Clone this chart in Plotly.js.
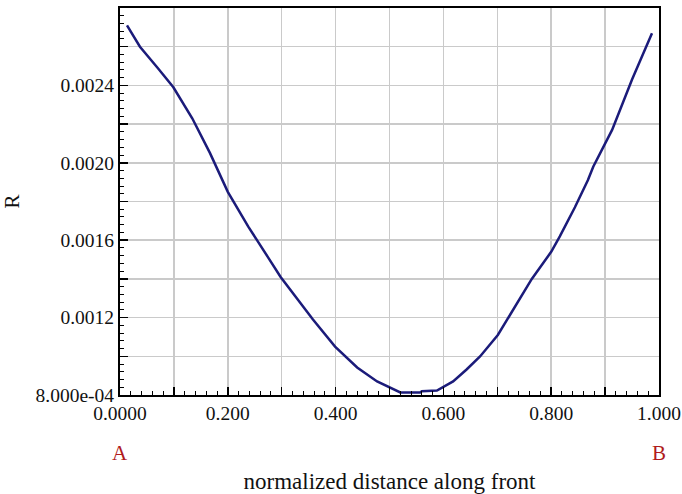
<!DOCTYPE html>
<html>
<head>
<meta charset="utf-8">
<script src="https://cdn.plot.ly/plotly-3.0.1.min.js"></script>
<style>
html,body{margin:0;padding:0;background:#fff;}
#chart{width:682px;height:494px;}
</style>
</head>
<body>
<div id="chart"></div>
<script>
// normalized distance along front (A -> B)
var distance = [0.013, 0.037, 0.070, 0.099, 0.134, 0.167, 0.200, 0.238, 0.275, 0.298,
                0.328, 0.358, 0.399, 0.440, 0.477, 0.501, 0.520, 0.557, 0.560, 0.588,
                0.618, 0.643, 0.668, 0.701, 0.729, 0.764, 0.800, 0.816, 0.844, 0.868,
                0.878, 0.913, 0.950, 0.987];
var R = [0.002710, 0.002600, 0.002490, 0.002390, 0.002230, 0.002050, 0.001850, 0.001670, 0.001510, 0.001410,
         0.001300, 0.001190, 0.001050, 0.000942, 0.000870, 0.000839, 0.000813, 0.000813, 0.000820, 0.000823,
         0.000870, 0.000932, 0.000999, 0.001110, 0.001240, 0.001400, 0.001540, 0.001620, 0.001770, 0.001910,
         0.001980, 0.002170, 0.002430, 0.002670];

var xTickVals = [0, 0.1, 0.2, 0.3, 0.4, 0.5, 0.6, 0.7, 0.8, 0.9, 1.0];
var xTickText = ['0.0000', '', '0.200', '', '0.400', '', '0.600', '', '0.800', '', '1.000'];
var yTickVals = [0.0008, 0.0010, 0.0012, 0.0014, 0.0016, 0.0018, 0.0020, 0.0022, 0.0024, 0.0026, 0.0028];
var yTickText = ['8.000e-04', '', '0.0012', '', '0.0016', '', '0.0020', '', '0.0024', '', ''];

var endLabels = ['A', 'B'];
var endPositions = [0, 1];

var serif = 'Liberation Serif, Times New Roman, serif';

var trace = {
  x: distance, y: R, type: 'scatter', mode: 'lines',
  line: {color: '#1b1b7a', width: 2.5},
  hoverinfo: 'x+y'
};

var annotations = endLabels.map(function (t, i) {
  return {
    text: t, x: endPositions[i], xref: 'x', y: -0.15, yref: 'paper',
    showarrow: false, xanchor: 'center', yanchor: 'middle',
    font: {family: serif, size: 21, color: '#b01c1c'}
  };
});

var layout = {
  width: 682, height: 494,
  margin: {l: 120, r: 23, t: 8, b: 99},
  paper_bgcolor: '#ffffff', plot_bgcolor: '#ffffff',
  showlegend: false,
  font: {family: serif, size: 19.5, color: '#111'},
  xaxis: {
    range: [0, 1],
    tickmode: 'array', tickvals: xTickVals, ticktext: xTickText,
    ticks: 'inside', ticklen: 8, tickwidth: 1.5, tickcolor: '#000',
    minor: {dtick: 0.02, ticks: 'inside', ticklen: 4, tickwidth: 1, tickcolor: '#000', showgrid: false},
    showgrid: true, gridcolor: '#cacaca', gridwidth: 1.5,
    showline: true, linecolor: '#000', linewidth: 2, mirror: true,
    zeroline: false,
    tickfont: {family: serif, size: 19.5, color: '#111'},
    title: {text: 'normalized distance along front', standoff: 52,
            font: {family: serif, size: 23, color: '#111'}}
  },
  yaxis: {
    range: [0.0008, 0.0028],
    tickmode: 'array', tickvals: yTickVals, ticktext: yTickText,
    ticks: 'inside', ticklen: 8, tickwidth: 1.5, tickcolor: '#000',
    minor: {dtick: 0.00004, ticks: 'inside', ticklen: 4, tickwidth: 1, tickcolor: '#000', showgrid: false},
    showgrid: true, gridcolor: '#cacaca', gridwidth: 1.5,
    showline: true, linecolor: '#000', linewidth: 2, mirror: true,
    zeroline: false,
    tickfont: {family: serif, size: 19.5, color: '#111'},
    title: {text: 'R', standoff: 14, font: {family: serif, size: 21, color: '#111'}}
  },
  annotations: annotations
};

Plotly.newPlot('chart', [trace], layout, {displayModeBar: false, staticPlot: true});
</script>
</body>
</html>
